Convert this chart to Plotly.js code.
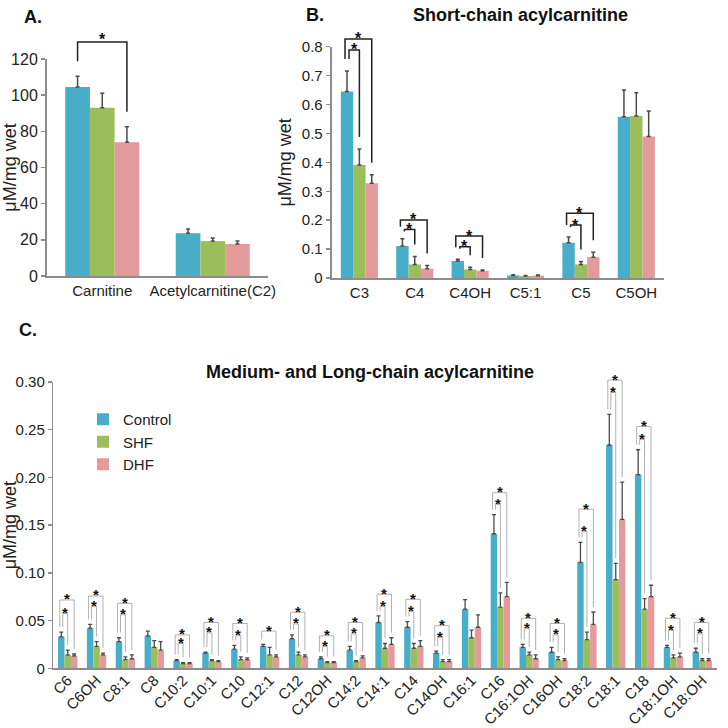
<!DOCTYPE html>
<html><head><meta charset="utf-8">
<script src="https://cdn.plot.ly/plotly-3.0.1.min.js"></script>
<style>html,body{margin:0;padding:0;background:#fff}</style>
</head><body><div id="chart" style="width:728px;height:728px"></div>
<script>
const groups = ['Control', 'SHF', 'DHF'];
const colors = ['#47adc9', '#9bbd5a', '#e49a9a'];

// Panel A
const catsA = ['Carnitine', 'Acetylcarnitine(C2)'];
const controlA = [104.5, 23.7];
const shfA = [93.0, 19.3];
const dhfA = [74.0, 17.7];
const controlErrA = [6.0, 2.3];
const shfErrA = [8.0, 1.7];
const dhfErrA = [8.5, 1.6];
const sigCatA = ['Carnitine'];
const sigToA = [2];
const sigTopA = [129.4];

// Panel B
const catsB = ['C3', 'C4', 'C4OH', 'C5:1', 'C5', 'C5OH'];
const controlB = [0.645, 0.111, 0.059, 0.009, 0.122, 0.558];
const shfB = [0.391, 0.047, 0.029, 0.007, 0.047, 0.560];
const dhfB = [0.328, 0.032, 0.025, 0.008, 0.072, 0.489];
const controlErrB = [0.071, 0.025, 0.006, 0.002, 0.020, 0.092];
const shfErrB = [0.055, 0.027, 0.008, 0.002, 0.010, 0.081];
const dhfErrB = [0.029, 0.011, 0.003, 0.002, 0.017, 0.089];
const sigCatB = ['C3', 'C3', 'C4', 'C4', 'C4OH', 'C4OH', 'C5', 'C5'];
const sigToB = [1, 2, 1, 2, 1, 2, 1, 2];
const sigTopB = [0.789, 0.827, 0.168, 0.201, 0.108, 0.145, 0.183, 0.224];

// Panel C
const catsC = ['C6', 'C6OH', 'C8:1', 'C8', 'C10:2', 'C10:1', 'C10', 'C12:1', 'C12', 'C12OH', 'C14:2', 'C14:1', 'C14', 'C14OH', 'C16:1', 'C16', 'C16:1OH', 'C16OH', 'C18:2', 'C18:1', 'C18', 'C18:1OH', 'C18:OH'];
const controlC = [0.033, 0.042, 0.028, 0.034, 0.008, 0.016, 0.020, 0.023, 0.031, 0.010, 0.019, 0.048, 0.043, 0.016, 0.062, 0.141, 0.022, 0.017, 0.111, 0.234, 0.203, 0.022, 0.017];
const controlErrC = [0.005, 0.004, 0.004, 0.005, 0.001, 0.001, 0.004, 0.002, 0.004, 0.002, 0.004, 0.007, 0.006, 0.002, 0.010, 0.020, 0.003, 0.005, 0.021, 0.032, 0.026, 0.002, 0.004];
const shfC = [0.014, 0.023, 0.009, 0.022, 0.005, 0.008, 0.009, 0.014, 0.014, 0.006, 0.007, 0.021, 0.021, 0.007, 0.032, 0.064, 0.014, 0.009, 0.030, 0.093, 0.062, 0.011, 0.008];
const shfErrC = [0.005, 0.005, 0.003, 0.007, 0.001, 0.001, 0.003, 0.008, 0.003, 0.001, 0.001, 0.005, 0.005, 0.002, 0.008, 0.015, 0.003, 0.003, 0.008, 0.017, 0.011, 0.003, 0.002];
const dhfC = [0.013, 0.014, 0.010, 0.019, 0.005, 0.007, 0.009, 0.012, 0.012, 0.006, 0.011, 0.025, 0.023, 0.007, 0.043, 0.075, 0.010, 0.008, 0.046, 0.156, 0.075, 0.012, 0.008];
const dhfErrC = [0.002, 0.002, 0.004, 0.009, 0.001, 0.001, 0.002, 0.002, 0.002, 0.001, 0.002, 0.007, 0.006, 0.002, 0.013, 0.015, 0.004, 0.002, 0.013, 0.039, 0.012, 0.004, 0.002];
const sigCatC = ['C6','C6','C6OH','C6OH','C8:1','C8:1','C10:2','C10:2','C10:1','C10:1','C10','C10','C12:1','C12','C12','C12OH','C12OH','C14:2','C14:2','C14:1','C14:1','C14','C14','C14OH','C14OH','C16','C16','C16:1OH','C16:1OH','C16OH','C16OH','C18:2','C18:2','C18:1','C18:1','C18','C18','C18:1OH','C18:1OH','C18:OH','C18:OH'];
const sigToC = [1,2,1,2,1,2,1,2,1,2,1,2,2,1,2,1,2,1,2,1,2,1,2,1,2,1,2,1,2,1,2,1,2,1,2,1,2,1,2,1,2];
const sigTopC = [0.0577,0.0716,0.0646,0.0758,0.056,0.068,0.026,0.035,0.037,0.048,0.034,0.047,0.039,0.0465,0.0587,0.0227,0.034,0.036,0.048,0.0646,0.0776,0.0594,0.0723,0.0325,0.0447,0.172,0.184,0.042,0.0524,0.035,0.047,0.143,0.1667,0.289,0.302,0.240,0.2533,0.040,0.0524,0.036,0.048];
const tickValsC = [0, 0.05, 0.10, 0.15, 0.20, 0.25, 0.30];
const tickTextC = ['0', '0.05', '0.10', '0.15', '0.20', '0.25', '0.30'];

const W = 728, H = 728, PX = 1 / 728;
const BARGAP = 0.33;
const FONT = 'Liberation Sans, Arial, Helvetica, sans-serif';
const AXC = '#8c8c8c';

const xDomA = [47 / W, 268 / W], yDomA = [1 - 276 / H, 1 - 59 / H], yRA = [0, 120];
const xDomB = [331.7 / W, 664 / W], yDomB = [1 - 278 / H, 1 - 46.7 / H], yRB = [0, 0.8];
const xDomC = [53.3 / W, 716.7 / W], yDomC = [1 - 668.3 / H, 1 - 382 / H], yRC = [0, 0.30];

function barTraces(cats, vals, errs, xa, ya, showLegend) {
  return vals.map((v, s) => ({
    type: 'bar', x: cats, y: v, name: groups[s], legendgroup: groups[s],
    showlegend: showLegend, xaxis: xa, yaxis: ya,
    marker: { color: colors[s], line: { width: 0 } },
    error_y: { type: 'data', symmetric: false, array: errs[s], arrayminus: v.map(() => 0),
      color: '#4a4a4a', thickness: xa === 'x3' ? 1.3 : 1.5, width: 2 },
    hoverinfo: 'x+y+name'
  }));
}

function brackets(p, shapes, anns) {
  const w = (1 - BARGAP) / 3;
  const xr = [-0.5, p.cats.length - 0.5];
  const mx = v => p.xd[0] + (v - xr[0]) / (xr[1] - xr[0]) * (p.xd[1] - p.xd[0]);
  const my = v => p.yd[0] + (v - p.yr[0]) / (p.yr[1] - p.yr[0]) * (p.yd[1] - p.yd[0]);
  p.sigCat.forEach((cat, i) => {
    const ci = p.cats.indexOf(cat);
    const to = p.sigTo[i];
    const xL = mx(ci - w) + (to === 1 ? p.legOff : -p.legOff) * PX;
    const xR = mx(ci + (to - 1) * w);
    const yT = my(p.sigTop[i]);
    const yL = Math.min(my(p.vals[0][ci] + p.errs[0][ci]) + p.pad * PX, yT - 2 * PX);
    const yR = Math.min(my(p.vals[to][ci] + p.errs[to][ci]) + p.pad * PX, yT - 2 * PX);
    shapes.push({ type: 'path', xref: 'paper', yref: 'paper',
      path: `M${xL},${yL} L${xL},${yT} L${xR},${yT} L${xR},${yR}`,
      line: { color: p.color, width: p.lw } });
    anns.push({ xref: 'paper', yref: 'paper', x: (xL + xR) / 2, y: yT, text: '<b>*</b>',
      showarrow: false, xanchor: 'center', yanchor: 'middle', yshift: p.starShift,
      font: { family: FONT, size: p.starSize, color: '#111' } });
  });
}

const traces = [
  ...barTraces(catsA, [controlA, shfA, dhfA], [controlErrA, shfErrA, dhfErrA], 'x', 'y', false),
  ...barTraces(catsB, [controlB, shfB, dhfB], [controlErrB, shfErrB, dhfErrB], 'x2', 'y2', false),
  ...barTraces(catsC, [controlC, shfC, dhfC], [controlErrC, shfErrC, dhfErrC], 'x3', 'y3', true)
];

const shapes = [], anns = [];
brackets({ cats: catsA, vals: [controlA, shfA, dhfA], errs: [controlErrA, shfErrA, dhfErrA], sigCat: sigCatA, sigTo: sigToA, sigTop: sigTopA,
  xd: xDomA, yd: yDomA, yr: yRA, pad: 15, legOff: 0, color: '#222', lw: 1.5, starSize: 16, starShift: 3 }, shapes, anns);
brackets({ cats: catsB, vals: [controlB, shfB, dhfB], errs: [controlErrB, shfErrB, dhfErrB], sigCat: sigCatB, sigTo: sigToB, sigTop: sigTopB,
  xd: xDomB, yd: yDomB, yr: yRB, pad: 12, legOff: 2, color: '#222', lw: 1.5, starSize: 16, starShift: 0 }, shapes, anns);
brackets({ cats: catsC, vals: [controlC, shfC, dhfC], errs: [controlErrC, shfErrC, dhfErrC], sigCat: sigCatC, sigTo: sigToC, sigTop: sigTopC,
  xd: xDomC, yd: yDomC, yr: yRC, pad: 5, legOff: 1.5, color: '#b0b0b0', lw: 1, starSize: 15, starShift: 1 }, shapes, anns);

const txt = (x, y, text, size, xanchor) => ({ xref: 'paper', yref: 'paper', x: x, y: y, text: text, showarrow: false,
  xanchor: xanchor, yanchor: 'middle', font: { family: FONT, size: size, color: '#111' } });
anns.push(txt(22 / W, 1 - 17 / H, '<b>A.</b>', 18, 'left'));
anns.push(txt(304 / W, 1 - 15 / H, '<b>B.</b>', 18, 'left'));
anns.push(txt(520 / W, 1 - 15 / H, '<b>Short-chain acylcarnitine</b>', 18, 'center'));
anns.push(txt(17 / W, 1 - 330 / H, '<b>C.</b>', 18, 'left'));
anns.push(txt(370 / W, 1 - 372 / H, '<b>Medium- and Long-chain acylcarnitine</b>', 18, 'center'));

const yTitle = { text: 'μM/mg wet', font: { family: FONT, size: 18, color: '#222' }, standoff: 6 };
const baseX = { showline: true, linecolor: AXC, linewidth: 2, ticks: '', showgrid: false, zeroline: false,
  tickfont: { family: FONT, size: 15, color: '#222' }, type: 'category', fixedrange: true };
const baseY = { showline: true, linecolor: AXC, linewidth: 2, ticks: 'outside', ticklen: 4, tickcolor: AXC, tickwidth: 1.5,
  showgrid: false, zeroline: false, tickfont: { family: FONT, size: 16, color: '#222' }, fixedrange: true, title: yTitle };

const layout = {
  width: W, height: H, margin: { l: 0, r: 0, t: 0, b: 0 },
  paper_bgcolor: '#fff', plot_bgcolor: 'rgba(0,0,0,0)',
  font: { family: FONT, color: '#222' },
  barmode: 'group', bargap: BARGAP, bargroupgap: 0,
  xaxis: Object.assign({}, baseX, { domain: xDomA, anchor: 'y', range: [-0.5, 1.5] }),
  yaxis: Object.assign({}, baseY, { domain: yDomA, anchor: 'x', range: yRA, dtick: 20 }),
  xaxis2: Object.assign({}, baseX, { domain: xDomB, anchor: 'y2', range: [-0.5, 5.5] }),
  yaxis2: Object.assign({}, baseY, { domain: yDomB, anchor: 'x2', range: yRB, dtick: 0.1, tickfont: { family: FONT, size: 15, color: '#222' } }),
  xaxis3: Object.assign({}, baseX, { domain: xDomC, anchor: 'y3', range: [-0.5, 22.5], tickangle: -45, linewidth: 1.5,
    ticklabelstandoff: -4, tickfont: { family: FONT, size: 15, color: '#222' } }),
  yaxis3: Object.assign({}, baseY, { domain: yDomC, anchor: 'x3', range: yRC, tickvals: tickValsC, ticktext: tickTextC,
    linewidth: 1.5, tickfont: { family: FONT, size: 15, color: '#222' } }),
  showlegend: true,
  legend: { x: 83 / W, y: 1 - 403 / H, xanchor: 'left', yanchor: 'top', bgcolor: 'rgba(0,0,0,0)',
    font: { family: FONT, size: 15, color: '#222' }, tracegroupgap: 0, traceorder: 'normal' },
  shapes: shapes, annotations: anns
};

Plotly.newPlot('chart', traces, layout, { displayModeBar: false, staticPlot: true });
</script>
</body></html>
